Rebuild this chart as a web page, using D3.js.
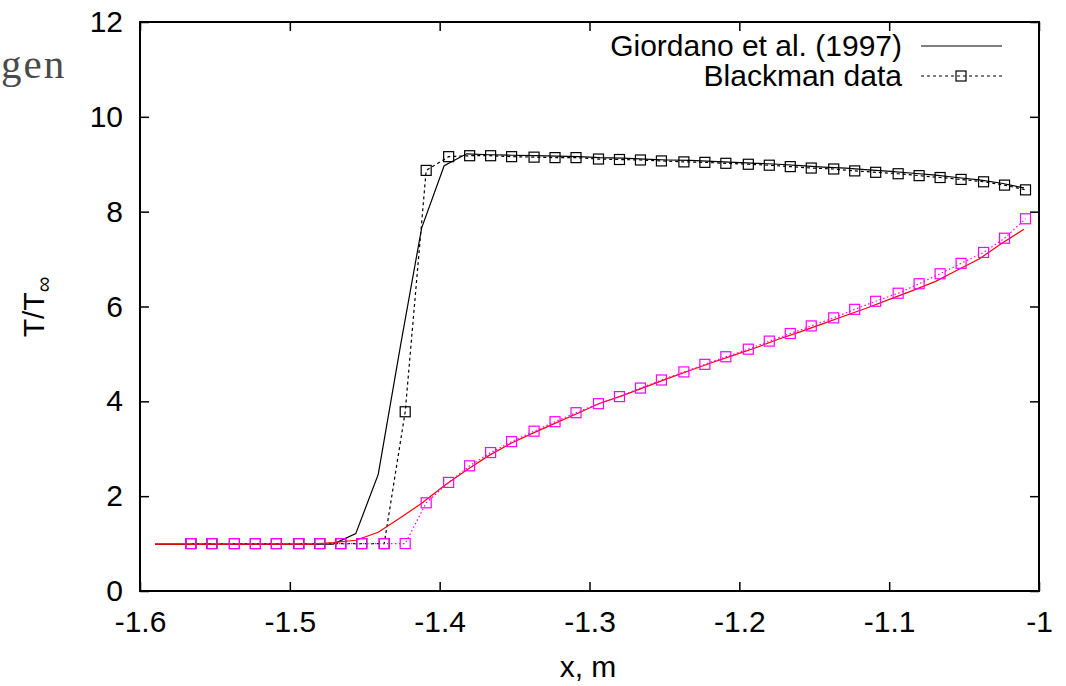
<!DOCTYPE html>
<html>
<head>
<meta charset="utf-8">
<script src="https://cdn.jsdelivr.net/npm/d3@7/dist/d3.min.js"></script>
<style>
  body { margin: 0; background: #fff; }
  svg { display: block; }
  text { font-family: "Liberation Sans", Arial, sans-serif; }
</style>
</head>
<body>
<svg id="chart" width="1066" height="686"></svg>
<script>
// x positions of the Blackman data (both sets share them)
var blackmanX = [-1.566, -1.552, -1.537, -1.523, -1.509, -1.494, -1.480, -1.466, -1.452, -1.437,
                 -1.423, -1.409, -1.394, -1.380, -1.366, -1.352, -1.337, -1.323, -1.309, -1.294,
                 -1.280, -1.266, -1.252, -1.237, -1.223, -1.209, -1.194, -1.180, -1.166, -1.152,
                 -1.137, -1.123, -1.109, -1.094, -1.080, -1.066, -1.052, -1.037, -1.023, -1.009];
var blackmanBlack = [1.0, 1.0, 1.0, 1.0, 1.0, 1.0, 1.0, 1.0, 1.0, 1.0,
                     3.78, 8.87, 9.16, 9.18, 9.18, 9.16, 9.15, 9.14, 9.14, 9.11,
                     9.10, 9.09, 9.07, 9.05, 9.04, 9.02, 9.00, 8.98, 8.95, 8.92,
                     8.90, 8.86, 8.83, 8.80, 8.76, 8.72, 8.68, 8.63, 8.56, 8.46];
var blackmanMagenta = [1.0, 1.0, 1.0, 1.0, 1.0, 1.0, 1.0, 1.0, 1.0, 1.0,
                       1.0, 1.86, 2.29, 2.64, 2.92, 3.15, 3.37, 3.57, 3.76, 3.95,
                       4.10, 4.28, 4.45, 4.62, 4.78, 4.94, 5.10, 5.27, 5.43, 5.59,
                       5.76, 5.94, 6.11, 6.28, 6.48, 6.69, 6.91, 7.14, 7.44, 7.85];

// Giordano et al. (1997) curves
var giordanoX = [-1.590, -1.575, -1.560, -1.545, -1.530, -1.516, -1.501, -1.486, -1.471, -1.456,
                 -1.441, -1.426, -1.412, -1.397, -1.382, -1.367, -1.352, -1.337, -1.322, -1.307,
                 -1.293, -1.278, -1.263, -1.248, -1.233, -1.218, -1.203, -1.188, -1.174, -1.159,
                 -1.144, -1.129, -1.114, -1.099, -1.084, -1.069, -1.055, -1.040, -1.025, -1.010];
var giordanoBlack = [0.99, 0.99, 0.99, 0.99, 0.99, 0.99, 0.99, 0.99, 0.99, 1.21,
                     2.46, 5.2, 7.66, 8.97, 9.22, 9.20, 9.19, 9.18, 9.17, 9.16,
                     9.14, 9.13, 9.11, 9.09, 9.08, 9.06, 9.04, 9.02, 9.00, 8.97,
                     8.94, 8.92, 8.88, 8.85, 8.81, 8.77, 8.72, 8.67, 8.60, 8.50];
var giordanoRed = [0.99, 0.99, 0.99, 0.99, 0.99, 0.99, 0.99, 0.99, 1.02, 1.07,
                   1.24, 1.55, 1.85, 2.22, 2.55, 2.86, 3.12, 3.34, 3.55, 3.76,
                   3.96, 4.12, 4.30, 4.48, 4.65, 4.82, 4.98, 5.14, 5.31, 5.47,
                   5.64, 5.81, 5.98, 6.16, 6.34, 6.53, 6.76, 7.00, 7.33, 7.63];

var xTicks = [-1.6, -1.5, -1.4, -1.3, -1.2, -1.1, -1];
var xTickLabels = ["-1.6", "-1.5", "-1.4", "-1.3", "-1.2", "-1.1", "-1"];
var yTicks = [0, 2, 4, 6, 8, 10, 12];
var legendLabels = ["Giordano et al. (1997)", "Blackman data"];

var svg = d3.select("#chart");

// plot frame
var plotLeft = 140, plotRight = 1039, plotTop = 22, plotBottom = 591;
var fontSize = 30;
var tickLen = 9;
var markSize = 10;

var x = d3.scaleLinear().domain([-1.6, -1]).range([plotLeft, plotRight]);
var y = d3.scaleLinear().domain([0, 12]).range([plotBottom, plotTop]);

function pairs(xs, ys) {
    return xs.map(function(v, i) { return [v, ys[i]]; });
}

// stray text fragment at top left
svg.append("text")
    .attr("x", 1)
    .attr("y", 78)
    .style("font-family", "'Liberation Serif', 'DejaVu Serif', serif")
    .style("font-size", "41px")
    .style("letter-spacing", "2px")
    .attr("fill", "#4a4a4a")
    .text("gen");

// axes, ticks pointing inward on all sides
function styleAxis(g) {
    g.select(".domain").remove();
    g.selectAll("line").attr("stroke", "#000").attr("stroke-width", 1.5);
    g.selectAll("text").style("font-size", fontSize + "px")
        .style("font-family", "'Liberation Sans', Arial, sans-serif").attr("fill", "#000");
}

svg.append("g")
    .attr("transform", "translate(0," + plotBottom + ")")
    .call(d3.axisBottom(x).tickValues(xTicks).tickSize(-tickLen).tickPadding(20)
        .tickFormat(function(d, i) { return xTickLabels[i]; }))
    .call(styleAxis);

svg.append("g")
    .attr("transform", "translate(0," + plotTop + ")")
    .call(d3.axisTop(x).tickValues(xTicks).tickSize(-tickLen).tickFormat(""))
    .call(styleAxis);

svg.append("g")
    .attr("transform", "translate(" + plotLeft + ",0)")
    .call(d3.axisLeft(y).tickValues(yTicks).tickSize(-tickLen).tickPadding(17))
    .call(styleAxis);

svg.append("g")
    .attr("transform", "translate(" + plotRight + ",0)")
    .call(d3.axisRight(y).tickValues(yTicks).tickSize(-tickLen).tickFormat(""))
    .call(styleAxis);

svg.append("rect")
    .attr("x", plotLeft)
    .attr("y", plotTop)
    .attr("width", plotRight - plotLeft)
    .attr("height", plotBottom - plotTop)
    .attr("fill", "none")
    .attr("stroke", "#000")
    .attr("stroke-width", 2);

// axis titles
svg.append("text")
    .attr("x", 588)
    .attr("y", 677)
    .attr("text-anchor", "middle")
    .style("font-size", fontSize + "px")
    .text("x, m");

var ylab = svg.append("text")
    .attr("text-anchor", "middle")
    .attr("transform", "translate(44,307)rotate(-90)")
    .style("font-size", fontSize + "px");
ylab.append("tspan").text("T/T");
ylab.append("tspan").attr("dy", 7).style("font-size", "22px").text("\u221e");

// series
var line = d3.line()
    .x(function(d) { return x(d[0]); })
    .y(function(d) { return y(d[1]); });

function drawLine(data, color, dash) {
    svg.append("path")
        .datum(data)
        .attr("d", line)
        .attr("fill", "none")
        .attr("stroke", color)
        .attr("stroke-width", 1.2)
        .attr("stroke-dasharray", dash);
}

function drawSquares(data, color) {
    svg.append("g").selectAll("rect")
        .data(data)
        .enter().append("rect")
        .attr("x", function(d) { return x(d[0]) - markSize / 2; })
        .attr("y", function(d) { return y(d[1]) - markSize / 2; })
        .attr("width", markSize)
        .attr("height", markSize)
        .attr("fill", "none")
        .attr("stroke", color)
        .attr("stroke-width", 1.2);
}

drawLine(pairs(giordanoX, giordanoBlack), "#000", null);
drawLine(pairs(blackmanX, blackmanBlack), "#000", "3,3");
drawSquares(pairs(blackmanX, blackmanBlack), "#000");
drawLine(pairs(giordanoX, giordanoRed), "#ff0000", null);
drawLine(pairs(blackmanX, blackmanMagenta), "#ff00ff", "1.5,2.5");
drawSquares(pairs(blackmanX, blackmanMagenta), "#ff00ff");

// legend
var legend = svg.append("g");
legendLabels.forEach(function(label, i) {
    var ly = 46 + i * 30;
    legend.append("text")
        .attr("x", 902)
        .attr("y", ly)
        .attr("dy", "0.34em")
        .attr("text-anchor", "end")
        .style("font-size", fontSize + "px")
        .text(label);
    legend.append("line")
        .attr("x1", 921).attr("x2", 1002)
        .attr("y1", ly).attr("y2", ly)
        .attr("stroke", "#000")
        .attr("stroke-width", 1.2)
        .attr("stroke-dasharray", i === 1 ? "3,3" : null);
    if (i === 1) {
        legend.append("rect")
            .attr("x", 961 - markSize / 2).attr("y", ly - markSize / 2)
            .attr("width", markSize).attr("height", markSize)
            .attr("fill", "none").attr("stroke", "#000").attr("stroke-width", 1.2);
    }
});
</script>
</body>
</html>
